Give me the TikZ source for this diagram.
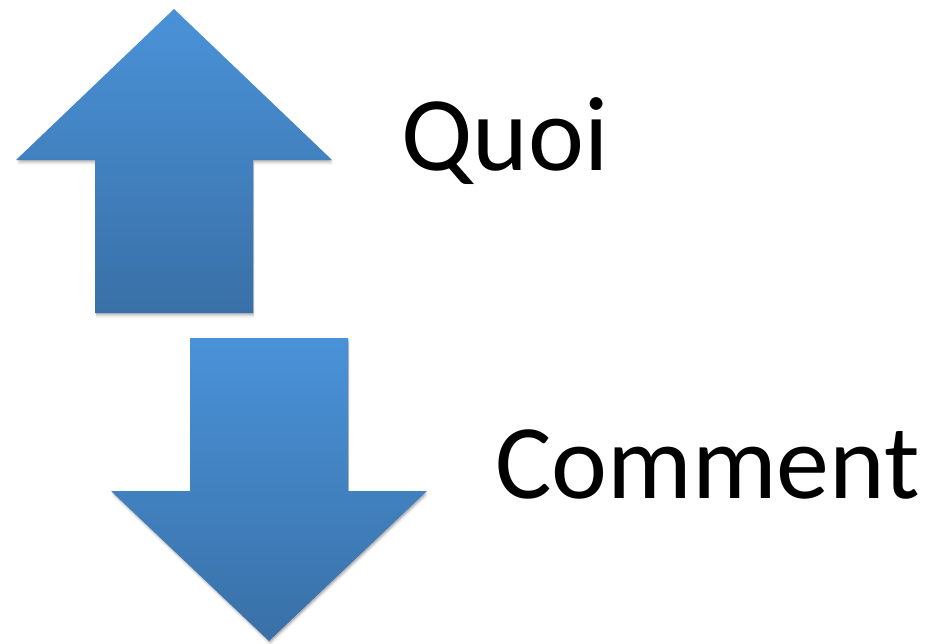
\documentclass[tikz,border=0pt]{standalone}
\usepackage{fontspec}
\setmainfont{Carlito}
\begin{document}
\begin{tikzpicture}[x=1pt,y=-1pt,
  arrowfill/.style={top color=arrowtop,bottom color=arrowbot,draw=none},
  bigword/.style={inner sep=0pt,anchor=base west,font=\fontsize{106}{122}\selectfont}]
\definecolor{arrowtop}{HTML}{4A92D8}
\definecolor{arrowbot}{HTML}{3970A7}
\useasboundingbox (0,0) rectangle (925,643);
% soft drop shadows
\foreach \d/\o in {1/0.10,2/0.08,3/0.06,4/0.04,5/0.03}{
  \fill[black,opacity=\o,shift={(1,\d)}]
    (174,9) -- (332,160) -- (253,160) -- (253,313) -- (95,313) -- (95,160) -- (16,160) -- cycle;
  \fill[black,opacity=\o,shift={(1,\d)}]
    (190,338) -- (348,338) -- (348,491) -- (427,491) -- (269,641) -- (111,491) -- (190,491) -- cycle;
}
% upward arrow
\shade[arrowfill]
  (174,9) -- (332,160) -- (253,160) -- (253,313) -- (95,313) -- (95,160) -- (16,160) -- cycle;
% downward arrow
\shade[arrowfill]
  (190,338) -- (348,338) -- (348,491) -- (427,491) -- (269,641) -- (111,491) -- (190,491) -- cycle;
% labels
\node[bigword] (quoi) at (401,170) {Quoi};
\node[bigword] (comment) at (495,498) {Comment};
\end{tikzpicture}
\end{document}
